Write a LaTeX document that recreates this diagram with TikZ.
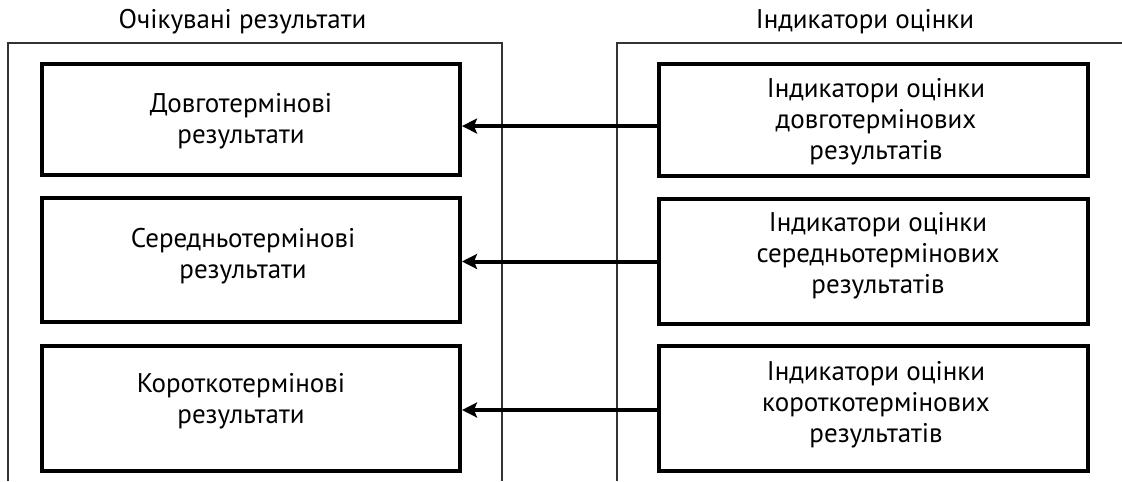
\documentclass[tikz,border=0pt]{standalone}
\usepackage{fontspec}
\setmainfont{PT Sans}
\usetikzlibrary{arrows.meta}
\begin{document}
\begin{tikzpicture}[x=0.5pt,y=-0.5pt,
  box/.style={draw=black, line width=2pt, inner sep=0pt},
  lbox/.style={box, minimum width=209pt},
  rbox/.style={box, minimum width=214.25pt},
  frame/.style={draw=black!80, line width=0.7pt},
  lbl/.style={align=center, font=\fontsize{13.5}{15.5}\selectfont, inner sep=0pt, text=black},
  arr/.style={draw=black, line width=2pt, -{Stealth[length=7.5pt,width=7.5pt,inset=1.5pt]}}]
\useasboundingbox (0,0) rectangle (1122,481);
% frames
\draw[frame] (8,481) -- (8,43) -- (502,43) -- (502,481);
\draw[frame] (617,481) -- (617,43) -- (1122,43);
% headers
\node[lbl] (hl) at (242.5,22) {Очікувані результати};
\node[lbl] (hr) at (865,22) {Індикатори оцінки};
% left boxes
\node[lbox, minimum height=55.25pt] (lb1) at (251,119.25) {};
\node[lbox, minimum height=62pt] (lb2) at (251,260) {};
\node[lbox, minimum height=62.5pt] (lb3) at (251,408.5) {};
% right boxes
\node[rbox, minimum height=55.75pt] (rb1) at (873.25,120.25) {};
\node[rbox, minimum height=62.5pt] (rb2) at (873.25,261.5) {};
\node[rbox, minimum height=62.5pt] (rb3) at (873.25,408.5) {};
% texts
\node[lbl] (lt1) at (241,121) {Довготермінові\\результати};
\node[lbl] (lt2) at (243,256) {Середньотермінові\\результати};
\node[lbl] (lt3) at (241,401) {Короткотермінові\\результати};
\node[lbl] (rt1) at (876,122) {Індикатори оцінки\\довготермінових\\результатів};
\node[lbl] (rt2) at (878,256) {Індикатори оцінки\\середньотермінових\\результатів};
\node[lbl] (rt3) at (876,404.5) {Індикатори оцінки\\короткотермінових\\результатів};
% arrows
\draw[arr] ([yshift=-2.9pt]rb1.west) -- ([yshift=-2.9pt]rb1.west -| lb1.east);
\draw[arr] (rb2.west) -- (rb2.west -| lb2.east);
\draw[arr] ([yshift=-0.75pt]rb3.west) -- ([yshift=-0.75pt]rb3.west -| lb3.east);
\end{tikzpicture}
\end{document}
